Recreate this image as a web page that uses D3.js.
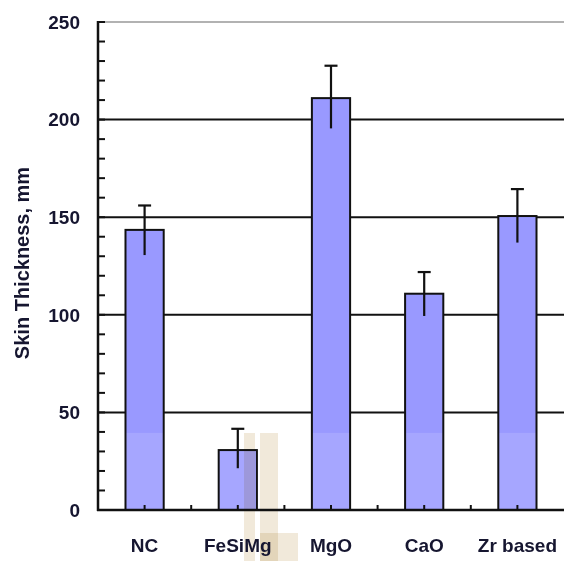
<!DOCTYPE html>
<html><head><meta charset="utf-8">
<script src="https://cdn.jsdelivr.net/npm/d3@7"></script>
<style>body{margin:0;background:#fff}svg{display:block}</style>
</head><body><svg id="c" width="564" height="561"></svg>
<script>
const categories = ["NC", "FeSiMg", "MgO", "CaO", "Zr based"];
const values = [143.5, 30.7, 211, 110.8, 150.6];
const errLow = [130.6, 21.4, 195.5, 99.4, 137];
const errHigh = [156, 41.6, 227.6, 121.9, 164.4];
const yTicks = [0, 50, 100, 150, 200, 250];
const yLabel = "Skin Thickness, mm";

const svg = d3.select("#c");
const x = d3.scaleBand().domain(categories).range([98, 564]).paddingInner(0.59).paddingOuter(0.295);
const y = d3.scaleLinear().domain([0, 250]).range([510, 22]);
const font = "'Liberation Sans', Arial, sans-serif";

// gridlines
svg.append("g").selectAll("line").data(yTicks.filter(d => d > 0)).join("line")
  .attr("x1", 98).attr("x2", 564).attr("y1", d => y(d)).attr("y2", d => y(d))
  .attr("stroke", d => d === 250 ? "#666" : "#111").attr("stroke-width", d => d === 250 ? 1.2 : 2);

// bar fills
const data = categories.map((c, i) => ({c, v: values[i], lo: errLow[i], hi: errHigh[i]}));
svg.append("g").selectAll("rect").data(data).join("rect")
  .attr("x", d => x(d.c)).attr("width", x.bandwidth())
  .attr("y", d => y(d.v)).attr("height", d => y(0) - y(d.v))
  .attr("fill", "#9999ff");
// lighter lower band (as in reference image)
svg.append("g").selectAll("rect").data(data).join("rect")
  .attr("x", d => x(d.c)).attr("width", x.bandwidth())
  .attr("y", d => y(Math.min(d.v, 39.5))).attr("height", d => y(0) - y(Math.min(d.v, 39.5)))
  .attr("fill", "#fff").attr("opacity", 0.13);

// faint watermark present in the reference
const wm = [[244, 433, 11, 128], [260, 433, 18, 128], [260, 533, 38, 28]];
svg.append("g").selectAll("rect").data(wm).join("rect")
  .attr("x", d => d[0]).attr("y", d => d[1]).attr("width", d => d[2]).attr("height", d => d[3])
  .attr("fill", "#f1e9da").style("mix-blend-mode", "multiply");

// bar outlines
svg.append("g").selectAll("rect").data(data).join("rect")
  .attr("x", d => x(d.c)).attr("width", x.bandwidth())
  .attr("y", d => y(d.v)).attr("height", d => y(0) - y(d.v))
  .attr("fill", "none").attr("stroke", "#111").attr("stroke-width", 2);

// error bars
const eb = svg.append("g").attr("stroke", "#111").attr("stroke-width", 2.2);
eb.selectAll("line.v").data(data).join("line").attr("class", "v")
  .attr("x1", d => x(d.c) + x.bandwidth() / 2).attr("x2", d => x(d.c) + x.bandwidth() / 2)
  .attr("y1", d => y(d.lo)).attr("y2", d => y(d.hi));
eb.selectAll("line.cap").data(data).join("line").attr("class", "cap")
  .attr("x1", d => x(d.c) + x.bandwidth() / 2 - 6.5).attr("x2", d => x(d.c) + x.bandwidth() / 2 + 6.5)
  .attr("y1", d => y(d.hi)).attr("y2", d => y(d.hi));

// y axis with minor ticks inside
const minor = d3.range(0, 251, 10);
svg.append("g").selectAll("line").data(minor).join("line")
  .attr("x1", 98).attr("x2", 105).attr("y1", d => y(d)).attr("y2", d => y(d))
  .attr("stroke", "#111").attr("stroke-width", 2);
svg.append("line").attr("x1", 98).attr("x2", 98).attr("y1", y(250) - 1).attr("y2", y(0) + 1)
  .attr("stroke", "#111").attr("stroke-width", 2.5);
// x axis
svg.append("line").attr("x1", 97).attr("x2", 564).attr("y1", y(0)).attr("y2", y(0))
  .attr("stroke", "#111").attr("stroke-width", 2.5);
const step = x.step();
const xt = [];
categories.forEach((c, i) => { xt.push(x(c) + x.bandwidth() / 2); if (i > 0) xt.push(x(c) + x.bandwidth() / 2 - step / 2); });
svg.append("g").selectAll("line").data(xt).join("line")
  .attr("x1", d => d).attr("x2", d => d).attr("y1", y(0)).attr("y2", y(0) - 5)
  .attr("stroke", "#111").attr("stroke-width", 2);

// tick labels
svg.append("g").selectAll("text").data(yTicks).join("text")
  .attr("x", 80).attr("y", d => y(d)).attr("dy", "0.36em")
  .attr("text-anchor", "end").attr("font-family", font).attr("font-weight", "bold")
  .attr("font-size", 19).attr("fill", "#161630").text(d => d);
svg.append("g").selectAll("text").data(categories).join("text")
  .attr("x", d => x(d) + x.bandwidth() / 2).attr("y", 552)
  .attr("text-anchor", "middle").attr("font-family", font).attr("font-weight", "bold")
  .attr("font-size", 19).attr("fill", "#161630").text(d => d);
svg.append("text").attr("transform", "translate(29,263) rotate(-90)")
  .attr("text-anchor", "middle").attr("font-family", font).attr("font-weight", "bold")
  .attr("font-size", 20).attr("fill", "#161630").text(yLabel);
</script></body></html>
